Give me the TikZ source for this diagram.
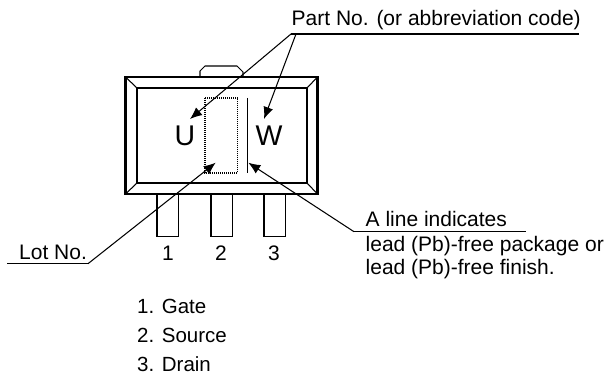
\documentclass[tikz,border=0pt]{standalone}
\usepackage{fontspec}
\setmainfont{Liberation Sans}
\usetikzlibrary{arrows.meta}
\tikzset{
  lbl/.style={inner sep=0pt,anchor=base west,font=\fontsize{21}{23}\selectfont},
  lst/.style={inner sep=0pt,anchor=base west,font=\fontsize{20.5}{23}\selectfont},
  lead/.style={draw=black,line width=1.05pt},
  thin line/.style={draw=black,line width=1.05pt},
  arrowline/.style={draw=black,line width=1.05pt,-{Latex[length=12pt,width=10pt]}},
}
\begin{document}
\begin{tikzpicture}[x=1pt,y=-1pt]
\useasboundingbox (0,0) rectangle (607,374);
% leads
\foreach \a/\b in {157/178.3,211/232.3,264/285.7}{
  \draw[lead] (\a,194) -- (\a,236.7) -- (\b,236.7) -- (\b,194);
}
% tab
\draw[lead] (200,76) -- (200,71) -- (205,66) -- (237,66) -- (243,72) -- (243,76);
% body
\draw[line width=2.6pt] (125.5,77) rectangle (317.5,194);
\draw[line width=1.2pt] (137,88) rectangle (307,183);
\draw[line width=1.05pt] (125.5,77) -- (137,88) (317.5,77) -- (307,88) (125.5,194) -- (137,183) (317.5,194) -- (307,183);
% dotted box and line
\draw[line width=1.05pt,dash pattern=on 1pt off 1pt] (205,98) rectangle (237.3,173);
\draw[line width=1.1pt] (247.7,98) -- (247.7,173);
% letters
\node[inner sep=0pt,anchor=base,font=\fontsize{28.5}{30}\selectfont] (u) at (185,146) {U};
\node[inner sep=0pt,anchor=base,font=\fontsize{28.5}{30}\selectfont] (w) at (269,146) {W};
% pin numbers
\node[lbl,anchor=base] (n1) at (168,260.5) {1};
\node[lbl,anchor=base] (n2) at (221,260.5) {2};
\node[lbl,anchor=base] (n3) at (274,260.5) {3};
% labels
\node[lbl] (part) at (291.5,26) {Part No. (or abbreviation code)};
\coordinate (pa) at (291,34);
\coordinate (pb) at (296,34);
\coordinate (pe) at (579,34);
\draw[thin line] (pa) -- (pe);
\coordinate (ut) at (190,119);
\coordinate (wt) at (264,119);
\draw[arrowline] (pa) -- (ut);
\draw[arrowline] (pb) -- (wt);
\node[lbl] (lot) at (19,259) {Lot No.};
\coordinate (la) at (7.3,263.7);
\coordinate (lb) at (88,263.7);
\coordinate (lt) at (215.7,162.7);
\draw[thin line] (la) -- (lb);
\draw[arrowline] (lb) -- (lt);
\node[lbl] (al) at (365.5,226.5) {A line indicates};
\coordinate (aa) at (354,231.7);
\coordinate (ab) at (526,231.7);
\coordinate (at) at (248.3,162.7);
\draw[thin line] (aa) -- (ab);
\draw[arrowline] (aa) -- (at);
\node[lbl] (a2) at (365.5,251.5) {lead (Pb)-free package or};
\node[lbl] (a3) at (365.5,274.5) {lead (Pb)-free finish.};
\node[lst] (g1) at (137,313.5) {1. Gate};
\node[lst] (g2) at (137,342.5) {2. Source};
\node[lst] (g3) at (137,371) {3. Drain};
\end{tikzpicture}
\end{document}
